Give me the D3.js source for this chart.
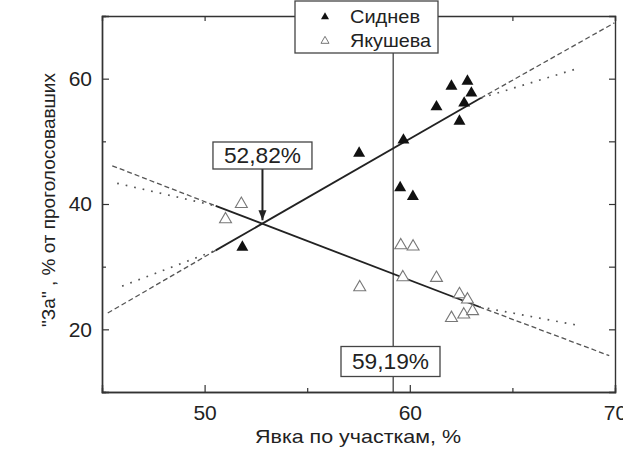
<!DOCTYPE html>
<html>
<head>
<meta charset="utf-8">
<script src="https://cdn.jsdelivr.net/npm/d3@7"></script>
<style>
  body { margin: 0; background: #fff; }
  svg text { font-family: "Liberation Sans", Arial, sans-serif; fill: #222; }
</style>
</head>
<body>
<div id="chart"></div>
<script>
// Сиднев: явка (%) и "За" (%)
const sidnevX = [51.84, 57.53, 59.53, 59.69, 60.15, 61.3, 62.03, 62.42, 62.65, 62.81, 63.0];
const sidnevY = [33.1, 48.1, 42.6, 50.2, 41.2, 55.5, 58.8, 53.2, 56.1, 59.6, 57.7];
// Якушева
const yakX = [51.02, 51.79, 57.56, 59.56, 59.66, 60.16, 61.3, 62.03, 62.42, 62.63, 62.81, 63.06];
const yakY = [37.55, 40.0, 26.7, 33.4, 28.3, 33.2, 28.2, 21.8, 25.6, 22.35, 24.75, 22.9];

// линии регрессии: концы [x, y]
const sidnevFit = [[50.54, 32.6], [63.46, 56.9]];
const yakFit = [[50.54, 39.7], [63.38, 23.6]];
// продолжения за пределы данных
const dashedSegs = [
  [[45.28, 22.6], [50.54, 32.6]],
  [[63.46, 56.9], [69.97, 68.9]],
  [[45.5, 46.1], [50.54, 39.7]],
  [[63.38, 23.6], [69.72, 15.8]]
];
const dottedSegs = [
  [[45.98, 26.9], [50.54, 32.6]],
  [[63.46, 56.9], [68.26, 61.7]],
  [[45.74, 43.3], [50.54, 39.7]],
  [[63.38, 23.6], [68.26, 20.6]]
];

const xTicks = [50, 60, 70];
const xMinor = [55, 65];
const yTicks = [20, 40, 60];
const yMinor = [30, 50];
const crossX = 52.82;
const crossY = 37.4;
const turnoutX = 59.19;
const legendNames = ["Сиднев", "Якушева"];

const w = 623;
const h = 454;
const margin = { top: 16, right: 8, bottom: 62, left: 102 };

const svg = d3.select("#chart").append("svg").attr("width", w).attr("height", h);

const xScale = d3.scaleLinear().domain([45, 70]).range([margin.left, w - margin.right]);
const yScale = d3.scaleLinear().domain([10, 70]).range([h - margin.bottom, margin.top]);

const x0 = xScale.range()[0], x1 = xScale.range()[1];
const y0 = yScale.range()[0], y1 = yScale.range()[1];

// вертикальная линия явки
svg.append("line")
  .attr("x1", xScale(turnoutX)).attr("x2", xScale(turnoutX))
  .attr("y1", y0).attr("y2", y1)
  .attr("stroke", "#333").attr("stroke-width", 1.2);

const line = d3.line().x((d) => xScale(d[0])).y((d) => yScale(d[1]));

svg.selectAll(".dashed")
  .data(dashedSegs)
  .enter().append("path")
  .attr("d", line)
  .attr("fill", "none").attr("stroke", "#555")
  .attr("stroke-width", 1.3).attr("stroke-dasharray", "5,3");

svg.selectAll(".dotted")
  .data(dottedSegs)
  .enter().append("path")
  .attr("d", line)
  .attr("fill", "none").attr("stroke", "#555")
  .attr("stroke-width", 1.7).attr("stroke-dasharray", "1.7,7");

svg.selectAll(".fit")
  .data([sidnevFit, yakFit])
  .enter().append("path")
  .attr("d", line)
  .attr("fill", "none").attr("stroke", "#222").attr("stroke-width", 1.8);

const tri = d3.symbol().type(d3.symbolTriangle).size(62);

svg.selectAll(".yak")
  .data(d3.zip(yakX, yakY))
  .enter().append("path")
  .attr("d", tri)
  .attr("transform", (d) => "translate(" + xScale(d[0]) + "," + yScale(d[1]) + ")")
  .attr("fill", "#fff").attr("stroke", "#777").attr("stroke-width", 1.1);

svg.selectAll(".sid")
  .data(d3.zip(sidnevX, sidnevY))
  .enter().append("path")
  .attr("d", tri)
  .attr("transform", (d) => "translate(" + xScale(d[0]) + "," + yScale(d[1]) + ")")
  .attr("fill", "#111");

// оси
const axisStyle = (g) => {
  g.select(".domain").attr("stroke", "#333").attr("stroke-width", 1.4);
  g.selectAll(".tick line").attr("stroke", "#333").attr("stroke-width", 1.2);
  g.selectAll(".tick text").style("font-size", "21px").attr("fill", "#222");
};

svg.append("g")
  .attr("transform", "translate(0," + y0 + ")")
  .call(d3.axisBottom(xScale).tickValues(xTicks).tickSize(-7).tickPadding(13).tickFormat(d3.format("d")))
  .call(axisStyle);
svg.append("g")
  .attr("transform", "translate(0," + y0 + ")")
  .call(d3.axisBottom(xScale).tickValues(xMinor).tickSize(-4).tickFormat(""))
  .call(axisStyle);

svg.append("g")
  .attr("transform", "translate(" + x0 + ",0)")
  .call(d3.axisLeft(yScale).tickValues(yTicks).tickSize(-7).tickPadding(10).tickFormat(d3.format("d")))
  .call(axisStyle);
svg.append("g")
  .attr("transform", "translate(" + x0 + ",0)")
  .call(d3.axisLeft(yScale).tickValues(yMinor).tickSize(-4).tickFormat(""))
  .call(axisStyle);

svg.append("g")
  .attr("transform", "translate(0," + y1 + ")")
  .call(d3.axisTop(xScale).tickValues(xTicks.concat(xMinor)).tickSize(-5).tickFormat(""))
  .call(axisStyle);
svg.append("g")
  .attr("transform", "translate(" + x1 + ",0)")
  .call(d3.axisRight(yScale).tickValues(yTicks.concat(yMinor)).tickSize(-6).tickFormat(""))
  .call(axisStyle);

// подписи осей
svg.append("text")
  .attr("x", 255).attr("y", 443)
  .attr("textLength", 206).attr("lengthAdjust", "spacingAndGlyphs")
  .style("font-size", "18.5px")
  .text("Явка по участкам, %");

svg.append("text")
  .attr("transform", "translate(55,200) rotate(-90)")
  .attr("text-anchor", "middle").style("font-size", "19px")
  .text("\"За\" , % от проголосовавших");

// аннотация 52,82%
const arrowX = xScale(crossX);
svg.append("defs").append("marker")
  .attr("id", "head").attr("viewBox", "0 0 10 10")
  .attr("refX", 10).attr("refY", 5)
  .attr("markerWidth", 5).attr("markerHeight", 5)
  .attr("markerUnits", "strokeWidth").attr("orient", "auto")
  .append("path").attr("d", "M0,1L10,5L0,9z").attr("fill", "#222");

svg.append("line")
  .attr("x1", arrowX).attr("x2", arrowX)
  .attr("y1", 169).attr("y2", yScale(crossY))
  .attr("stroke", "#222").attr("stroke-width", 2)
  .attr("marker-end", "url(#head)");

function labelBox(cx, cy, bw, bh, txt) {
  svg.append("rect")
    .attr("x", cx - bw / 2).attr("y", cy - bh / 2)
    .attr("width", bw).attr("height", bh)
    .attr("fill", "#fff").attr("stroke", "#444").attr("stroke-width", 1.3);
  svg.append("text")
    .attr("x", cx - 38.5).attr("y", cy + 7.5)
    .attr("textLength", 77).attr("lengthAdjust", "spacingAndGlyphs")
    .style("font-size", "22px")
    .text(txt);
}
labelBox(arrowX, 155.5, 99, 27, "52,82%");
labelBox(390.5, 361.5, 99, 30, "59,19%");

// легенда
const legend = svg.append("g");
legend.append("rect")
  .attr("x", 295).attr("y", 1).attr("width", 143).attr("height", 52)
  .attr("fill", "#fff").attr("stroke", "#444").attr("stroke-width", 1.3);

const legTri = d3.symbol().type(d3.symbolTriangle).size(28);
const legWidths = [70, 81];
legendNames.forEach((name, i) => {
  legend.append("path")
    .attr("d", legTri)
    .attr("transform", "translate(325," + (17 + i * 24) + ")")
    .attr("fill", i === 0 ? "#111" : "#fff")
    .attr("stroke", i === 0 ? "none" : "#777");
  legend.append("text")
    .attr("x", 350).attr("y", 23 + i * 24)
    .attr("textLength", legWidths[i]).attr("lengthAdjust", "spacingAndGlyphs")
    .style("font-size", "19px")
    .text(name);
});
</script>
</body>
</html>
